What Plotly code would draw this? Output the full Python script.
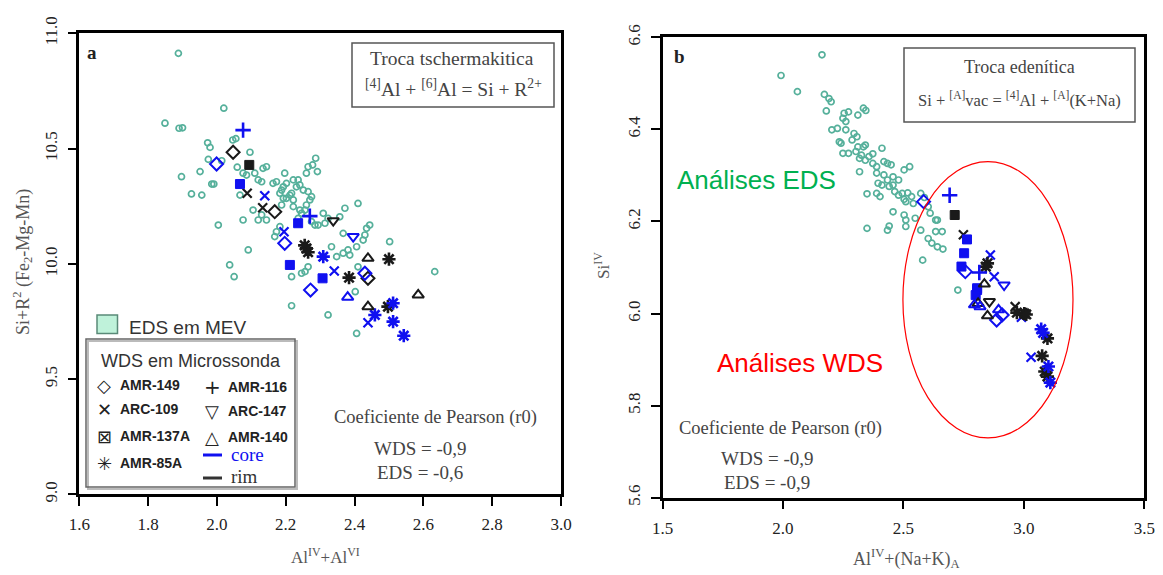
import plotly.graph_objects as go

W, H = 1163, 575          # browser window
OFF = 8                   # default body margin of the html page
FW, FH = W - OFF, H - OFF # figure size so that it exactly fills the window
def px(x): return (x - OFF) / FW
def py(y): return 1 - (y - OFF) / FH

# ---------------- Panel a data ----------------
eds_a_x = [1.888, 2.020, 1.849, 1.890, 1.900, 1.973, 1.980, 2.046, 2.055, 2.096, 1.975, 2.014, 2.059, 1.951,
           1.897, 1.985, 1.991, 1.926, 1.956, 2.067, 2.076, 2.086, 2.120, 2.130, 2.110, 2.134, 2.144, 2.287,
           2.278, 2.292, 2.197, 2.202, 2.173, 2.163, 2.188, 2.236, 2.241, 2.251, 2.265, 2.260, 2.217, 2.222,
           2.202, 2.212, 2.193, 2.188, 2.270, 2.260, 2.256, 2.275, 2.241, 2.246, 2.236, 2.105, 2.120, 2.144,
           2.076, 2.130, 2.309, 2.314, 2.285, 2.294, 2.275, 2.323, 2.357, 2.372, 2.410, 2.348, 2.367, 2.381,
           2.406, 2.386, 2.435, 2.444, 2.430, 2.425, 2.367, 2.333, 2.410, 2.502, 2.633, 2.091, 2.217, 2.246,
           2.265, 2.256, 2.217, 2.323, 2.406, 2.173, 2.168, 2.183, 2.004, 2.037, 2.050, 2.402, 2.193, 2.222,
           2.231, 2.265, 2.183, 2.222]
eds_a_y = [10.913, 10.675, 10.610, 10.588, 10.590, 10.525, 10.505, 10.537, 10.543, 10.484, 10.453, 10.447,
           10.419, 10.400, 10.378, 10.346, 10.346, 10.303, 10.298, 10.298, 10.393, 10.385, 10.364, 10.356,
           10.393, 10.414, 10.421, 10.458, 10.429, 10.400, 10.393, 10.349, 10.356, 10.349, 10.320, 10.364,
           10.342, 10.320, 10.313, 10.393, 10.306, 10.277, 10.284, 10.298, 10.284, 10.255, 10.277, 10.255,
           10.233, 10.291, 10.233, 10.219, 10.197, 10.233, 10.190, 10.190, 10.190, 10.212, 10.219, 10.176,
           10.168, 10.168, 10.183, 10.197, 10.204, 10.241, 10.262, 10.031, 10.046, 10.060, 10.074, 10.038,
           10.154, 10.168, 10.125, 10.103, 10.132, 10.074, 9.987, 10.096, 9.966, 10.060, 9.944, 9.959,
           9.987, 9.966, 9.818, 9.778, 9.698, 10.139, 10.118, 10.161, 10.168, 9.995, 9.944, 9.879, 10.334,
           10.364, 10.334, 10.421, 10.306, 10.248]

a_amr149_core_x = [1.999, 2.197, 2.272, 2.430]
a_amr149_core_y = [10.433, 10.089, 9.886, 9.959]
a_amr149_rim_x = [2.047, 2.168, 2.439]
a_amr149_rim_y = [10.484, 10.226, 9.937]
a_arc109_core_x = [2.139, 2.195, 2.341, 2.439]
a_arc109_core_y = [10.295, 10.139, 9.969, 9.744]
a_arc109_rim_x = [2.088, 2.133]
a_arc109_rim_y = [10.306, 10.243]
a_amr137a_core_x = [2.067, 2.236, 2.212, 2.307]
a_amr137a_core_y = [10.346, 10.176, 9.995, 9.937]
a_amr137a_rim_x = [2.094]
a_amr137a_rim_y = [10.429]
a_amr85a_core_x = [2.309, 2.512, 2.459, 2.512, 2.543]
a_amr85a_core_y = [10.031, 9.829, 9.778, 9.749, 9.688]
a_amr85a_rim_x = [2.260, 2.255, 2.265, 2.500, 2.384, 2.497]
a_amr85a_rim_y = [10.067, 10.080, 10.050, 10.020, 9.940, 9.814]
a_amr116_core_x = [2.076, 2.270]
a_amr116_core_y = [10.580, 10.207]
a_arc147_core_x = [2.396]
a_arc147_core_y = [10.118]
a_arc147_rim_x = [2.338]
a_arc147_rim_y = [10.187]
a_amr140_core_x = [2.380]
a_amr140_core_y = [9.855]
a_amr140_rim_x = [2.439, 2.585, 2.439]
a_amr140_rim_y = [10.024, 9.865, 9.814]

# ---------------- Panel b data ----------------
eds_b_x = [2.162, 1.992, 2.060, 2.172, 2.191, 2.200, 2.180, 2.254, 2.272, 2.249, 2.261, 2.311, 2.334, 2.344,
           2.203, 2.226, 2.261, 2.295, 2.307, 2.234, 2.241, 2.287, 2.311, 2.334, 2.342, 2.249, 2.272, 2.303,
           2.326, 2.357, 2.373, 2.411, 2.318, 2.342, 2.373, 2.389, 2.419, 2.434, 2.449, 2.503, 2.526, 2.318,
           2.389, 2.419, 2.434, 2.457, 2.480, 2.395, 2.411, 2.441, 2.457, 2.389, 2.349, 2.403, 2.464, 2.480,
           2.495, 2.503, 2.518, 2.534, 2.510, 2.541, 2.572, 2.587, 2.457, 2.503, 2.510, 2.549, 2.603, 2.611,
           2.634, 2.641, 2.349, 2.434, 2.441, 2.510, 2.572, 2.634, 2.661, 2.603, 2.618, 2.641, 2.664, 2.580,
           2.726]
eds_b_y = [6.562, 6.517, 6.482, 6.476, 6.467, 6.460, 6.440, 6.435, 6.438, 6.424, 6.417, 6.431, 6.446, 6.441,
           6.399, 6.402, 6.399, 6.391, 6.384, 6.373, 6.370, 6.377, 6.362, 6.362, 6.366, 6.348, 6.348, 6.352,
           6.344, 6.341, 6.347, 6.359, 6.337, 6.333, 6.326, 6.319, 6.330, 6.326, 6.323, 6.312, 6.319, 6.308,
           6.305, 6.301, 6.290, 6.297, 6.290, 6.283, 6.279, 6.276, 6.279, 6.261, 6.260, 6.254, 6.265, 6.257,
           6.261, 6.248, 6.262, 6.254, 6.243, 6.239, 6.261, 6.252, 6.221, 6.214, 6.203, 6.207, 6.232, 6.218,
           6.203, 6.203, 6.185, 6.181, 6.190, 6.189, 6.181, 6.178, 6.178, 6.163, 6.153, 6.145, 6.140, 6.116,
           6.051]

b_amr149_core_x = [2.584, 2.757, 2.887, 2.910]
b_amr149_core_y = [6.243, 6.091, 5.986, 5.997]
b_arc109_core_x = [2.861, 2.877, 2.990, 3.030]
b_arc109_core_y = [6.127, 6.080, 5.992, 5.905]
b_arc109_rim_x = [2.749, 2.964]
b_arc109_rim_y = [6.171, 6.015]
b_amr137a_core_x = [2.764, 2.752, 2.741, 2.806, 2.806, 2.800]
b_amr137a_core_y = [6.161, 6.131, 6.102, 6.055, 6.051, 6.040]
b_amr137a_rim_x = [2.713]
b_amr137a_rim_y = [6.214]
b_amr85a_core_x = [3.072, 3.080, 3.102, 3.110]
b_amr85a_core_y = [5.966, 5.958, 5.885, 5.850]
b_amr85a_rim_x = [2.849, 2.842, 2.971, 3.002, 3.010, 3.098, 3.076, 3.087, 3.098]
b_amr85a_rim_y = [6.109, 6.102, 6.002, 6.000, 5.998, 5.946, 5.908, 5.874, 5.863]
b_amr116_core_x = [2.692, 2.815]
b_amr116_core_y = [6.257, 6.089]
b_arc147_core_x = [2.918]
b_arc147_core_y = [6.062]
b_arc147_rim_x = [2.857]
b_arc147_rim_y = [6.026]
b_amr140_core_x = [2.795, 2.818, 2.895]
b_amr140_core_y = [6.019, 6.015, 6.008]
b_amr140_rim_x = [2.836, 2.810, 2.849]
b_amr140_rim_y = [6.064, 6.022, 5.995]

BLUE = "#1010f0"
BLACK = "#1a1a1a"
TEAL = "#56b09b"

SYM = {
    "amr149": ("diamond-open", 10, 2.0),
    "arc109": ("x-thin-open", 9, 2.2),
    "amr137a": ("square", 9, 1.0),
    "amr85a": ("asterisk-open", 11, 2.6),
    "amr116": ("cross-thin-open", 11, 2.6),
    "arc147": ("triangle-down-open", 10, 2.0),
    "amr140": ("triangle-up-open", 10, 2.0),
}

fig = go.Figure()

def eds(x, y, xa, ya):
    fig.add_trace(go.Scatter(x=x, y=y, mode="markers", xaxis=xa, yaxis=ya, showlegend=False,
                             marker=dict(symbol="circle-open", size=6, color=TEAL,
                                         line=dict(color=TEAL, width=1.7))))

def wds(x, y, key, color, xa, ya):
    sym, size, lw = SYM[key]
    fig.add_trace(go.Scatter(x=x, y=y, mode="markers", xaxis=xa, yaxis=ya, showlegend=False,
                             marker=dict(symbol=sym, size=size, color=color,
                                         line=dict(color=color, width=lw))))

eds(eds_a_x, eds_a_y, "x", "y")
eds(eds_b_x, eds_b_y, "x2", "y2")

g = globals()
for panel, xa, ya in (("a", "x", "y"), ("b", "x2", "y2")):
    for key in SYM:
        for zone, col in (("rim", BLACK), ("core", BLUE)):
            nx = f"{panel}_{key}_{zone}_x"
            if nx in g:
                wds(g[nx], g[f"{panel}_{key}_{zone}_y"], key, col, xa, ya)

SERIF = "Liberation Serif, Times New Roman, serif"
SANS = "Liberation Sans, Arial, sans-serif"

axis_common = dict(showline=True, linewidth=2.5, linecolor="black", mirror=True, ticks="outside",
                   ticklen=9, tickwidth=2, tickcolor="black", showgrid=False, zeroline=False,
                   automargin=False,
                   tickfont=dict(family=SERIF, size=17, color="#222"), tickformat=".1f")

fig.update_layout(
    width=FW, height=FH, margin=dict(l=0, r=0, t=0, b=0, pad=0, autoexpand=False),
    paper_bgcolor="white", plot_bgcolor="white",
    xaxis=dict(domain=[px(79.3), px(561)], range=[1.6, 3.0], dtick=0.2, anchor="y",
               ticklabelstandoff=4, **axis_common),
    yaxis=dict(domain=[py(494.3), py(33.3)], range=[9.0, 11.0], dtick=0.5, anchor="x",
               tickangle=-90, ticklabelstandoff=4, **axis_common),
    xaxis2=dict(domain=[px(662.5), px(1144.3)], range=[1.5, 3.5], dtick=0.5, anchor="y2",
                ticklabelstandoff=4, **axis_common),
    yaxis2=dict(domain=[py(497.7), py(37.3)], range=[5.6, 6.6], dtick=0.2, anchor="x2",
                tickangle=-90, ticklabelstandoff=4, **axis_common),
)

ann = []
def text(x, y, t, size=17, color="#444", family=SERIF, angle=0, xanchor="center"):
    ann.append(dict(x=px(x), y=py(y), xref="paper", yref="paper", text=t, showarrow=False,
                    font=dict(family=family, size=size, color=color), textangle=angle,
                    xanchor=xanchor, yanchor="middle"))

# axis titles
text(325, 556, "Al<sup>IV</sup>+Al<sup>VI</sup>", size=17, color="#555")
text(22, 262, "Si+R<sup>2</sup> (Fe<sub>2</sub>-Mg-Mn)", size=18, color="#555", angle=-90)
text(906, 558, "Al<sup>IV</sup>+(Na+K)<sub>A</sub>", size=18, color="#555")
text(602, 265, "Si<sup>IV</sup>", size=17, color="#555", angle=-90)

# panel letters
text(92, 53, "<b>a</b>", size=19, color="#222")
text(679, 57, "<b>b</b>", size=19, color="#222")

# exchange boxes
text(452, 58, "Troca tschermakitica", size=19.5)
text(453, 88, "<sup>[4]</sup>Al + <sup>[6]</sup>Al = Si + R<sup>2+</sup>", size=19.5)
text(1019, 67, "Troca edenítica", size=18)
text(1019, 99, "Si + <sup>[A]</sup>vac = <sup>[4]</sup>Al + <sup>[A]</sup>(K+Na)", size=16.5)

# Pearson texts
text(435, 417, "Coeficiente de Pearson (r0)", size=18.5)
text(420, 448, "WDS = -0,9", size=19)
text(420, 472, "EDS = -0,6", size=19)
text(780, 428, "Coeficiente de Pearson (r0)", size=18.5)
text(767, 458, "WDS = -0,9", size=19)
text(767, 482, "EDS = -0,9", size=19)

# labels in panel b
text(756, 180, "Análises EDS", size=26, color="#00b050", family=SANS)
text(800, 363, "Análises WDS", size=26, color="#ff0000", family=SANS)

# legend in panel a
text(127, 327, "EDS em MEV", size=19, color="#333", family=SANS, xanchor="left")
text(191, 361, "WDS em Microssonda", size=18, color="#333", family=SANS)
GLY = "DejaVu Sans, sans-serif"
left_items = [("◇", "AMR-149", 385), ("✕", "ARC-109", 409), ("⊠", "AMR-137A", 436), ("✳", "AMR-85A", 463)]
right_items = [("+", "AMR-116", 387), ("▽", "ARC-147", 411), ("△", "AMR-140", 437)]
for g_, lab, yy in left_items:
    text(104, yy, g_, size=18, color="#222", family=GLY)
    text(118, yy, "<b>" + lab + "</b>", size=14, color="#222", family=SANS, xanchor="left")
for g_, lab, yy in right_items:
    text(212, yy, g_, size=20 if g_ == "+" else 18, color="#222", family=GLY)
    text(226, yy, "<b>" + lab + "</b>", size=14, color="#222", family=SANS, xanchor="left")
text(229, 454, "core", size=19, color=BLUE, xanchor="left")
text(229, 476, "rim", size=19, color="#333", xanchor="left")

fig.update_layout(annotations=ann)

shapes = [
    # exchange boxes
    dict(type="rect", xref="paper", yref="paper", x0=px(352), x1=px(554), y0=py(107), y1=py(43),
         line=dict(color="#555", width=1.5)),
    dict(type="rect", xref="paper", yref="paper", x0=px(904), x1=px(1135), y0=py(122), y1=py(48),
         line=dict(color="#555", width=1.5)),
    # EDS swatch
    dict(type="rect", xref="paper", yref="paper", x0=px(97), x1=px(117.5), y0=py(333.5), y1=py(315),
         fillcolor="#bff2da", line=dict(color="#5a8a78", width=1.5)),
    # WDS legend box (shadow + box)
    dict(type="rect", xref="paper", yref="paper", x0=px(88), x1=px(297), y0=py(489), y1=py(341),
         line=dict(color="#bbb", width=2)),
    dict(type="rect", xref="paper", yref="paper", x0=px(86), x1=px(295), y0=py(487), y1=py(339),
         line=dict(color="#666", width=1.5)),
    # core / rim line samples
    dict(type="line", xref="paper", yref="paper", x0=px(203), x1=px(222), y0=py(455), y1=py(455),
         line=dict(color=BLUE, width=3)),
    dict(type="line", xref="paper", yref="paper", x0=px(203), x1=px(222), y0=py(478), y1=py(478),
         line=dict(color="#333", width=3)),
    # red ellipse in panel b
    dict(type="circle", xref="x2 domain", yref="y2 domain", x0=0.499, x1=0.852, y0=0.130, y1=0.730,
         line=dict(color="red", width=1.2)),
]
fig.update_layout(shapes=shapes)

fig.write_html("out.html")
